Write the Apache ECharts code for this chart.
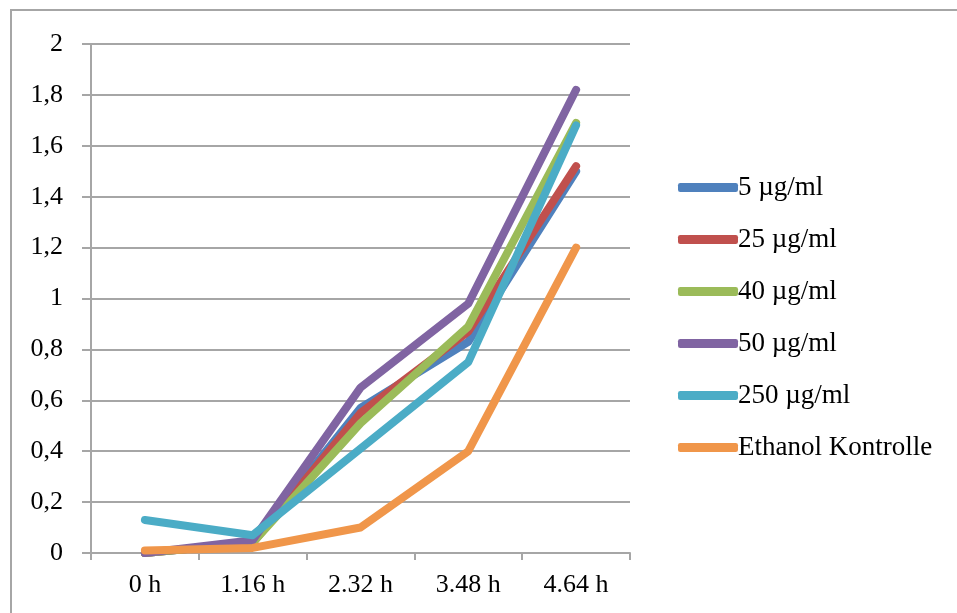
<!DOCTYPE html>
<html><head><meta charset="utf-8">
<script src="https://cdn.jsdelivr.net/npm/echarts@6/dist/echarts.min.js"></script>
<style>html,body{margin:0;padding:0;background:#fff}#c{width:957px;height:613px}</style>
</head><body><div id="c"></div>
<script>
const categories = ['0 h', '1.16 h', '2.32 h', '3.48 h', '4.64 h'];
const yTicks = [0, 0.2, 0.4, 0.6, 0.8, 1, 1.2, 1.4, 1.6, 1.8, 2];
const s5 = [0, 0.04, 0.57, 0.83, 1.50];
const s25 = [0, 0.04, 0.55, 0.87, 1.52];
const s40 = [0, 0.04, 0.51, 0.89, 1.69];
const s50 = [0, 0.05, 0.65, 0.98, 1.82];
const s250 = [0.13, 0.07, 0.41, 0.75, 1.68];
const sEth = [0.01, 0.02, 0.10, 0.40, 1.20];
const names = ['5 µg/ml', '25 µg/ml', '40 µg/ml', '50 µg/ml', '250 µg/ml', 'Ethanol Kontrolle'];
const values = [s5, s25, s40, s50, s250, sEth];
const colors = ['#4F81BD', '#C0504D', '#9BBB59', '#8064A2', '#4BACC6', '#F0964A'];

const font = '"Liberation Serif", "Times New Roman", serif';
const chart = echarts.init(document.getElementById('c'), null, {renderer: 'canvas'});
chart.setOption({
  animation: false,
  backgroundColor: '#fff',
  graphic: [{type: 'rect', shape: {x: 11, y: 10, width: 960, height: 620}, style: {fill: 'none', stroke: '#a6a6a6', lineWidth: 2}}],
  grid: {left: 91, right: 327, top: 44, bottom: 60, containLabel: false},
  legend: {
    orient: 'vertical', left: 673, top: 169, itemGap: 25, itemWidth: 60, itemHeight: 9,
    icon: 'roundRect',
    textStyle: {fontFamily: font, fontSize: 27, color: '#000', padding: [0, 0, 0, -5]},
    data: names
  },
  xAxis: {
    type: 'category', data: categories, boundaryGap: true,
    axisLine: {lineStyle: {color: '#a6a6a6', width: 2}},
    axisTick: {show: true, length: 7, lineStyle: {color: '#a6a6a6', width: 2}},
    axisLabel: {fontFamily: font, fontSize: 26, color: '#000', margin: 19},
    splitLine: {show: false}
  },
  yAxis: {
    type: 'value', min: 0, max: 2, interval: 0.2,
    axisLine: {show: true, lineStyle: {color: '#a6a6a6', width: 2}},
    axisTick: {show: true, length: 9, lineStyle: {color: '#a6a6a6', width: 2}},
    axisLabel: {fontFamily: font, fontSize: 26, color: '#000', margin: 28,
      formatter: v => { const t = yTicks.find(x => Math.abs(x - v) < 1e-9); return String(t !== undefined ? t : v).replace('.', ','); }},
    splitLine: {show: true, lineStyle: {color: '#a6a6a6', width: 2}}
  },
  series: names.map((n, i) => ({
    name: n, type: 'line', data: values[i], symbol: 'none',
    lineStyle: {width: 8, color: colors[i], cap: 'round', join: 'round'},
    itemStyle: {color: colors[i]}, z: 2 + i
  }))
});
</script></body></html>
